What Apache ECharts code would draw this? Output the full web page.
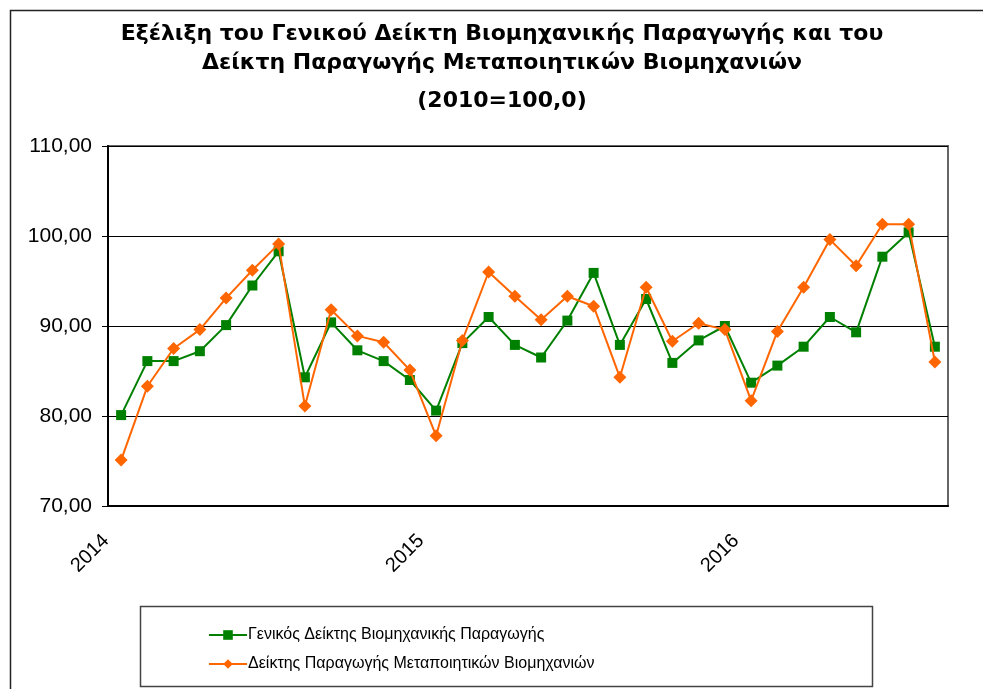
<!DOCTYPE html>
<html>
<head>
<meta charset="utf-8">
<script src="https://cdn.jsdelivr.net/npm/echarts@6/dist/echarts.min.js"></script>
<style>
html,body{margin:0;padding:0;background:#fff;}
#chart{width:983px;height:689px;}
</style>
</head>
<body>
<div id="chart"></div>
<script>
// Months Jan 2014 .. Aug 2016
var months = ['2014-01','2014-02','2014-03','2014-04','2014-05','2014-06','2014-07','2014-08','2014-09','2014-10','2014-11','2014-12',
              '2015-01','2015-02','2015-03','2015-04','2015-05','2015-06','2015-07','2015-08','2015-09','2015-10','2015-11','2015-12',
              '2016-01','2016-02','2016-03','2016-04','2016-05','2016-06','2016-07','2016-08'];
var generalIndex = [80.1, 86.1, 86.1, 87.2, 90.1, 94.5, 98.3, 84.3, 90.4, 87.3, 86.1, 84.0,
                    80.6, 88.1, 91.0, 87.9, 86.5, 90.6, 95.9, 87.9, 93.0, 85.9, 88.4, 90.0,
                    83.7, 85.6, 87.7, 91.0, 89.3, 97.7, 100.4, 87.7];
var manufacturingIndex = [75.1, 83.3, 87.5, 89.6, 93.1, 96.2, 99.1, 81.1, 91.8, 88.9, 88.2, 85.1,
                          77.8, 88.4, 96.0, 93.3, 90.7, 93.3, 92.2, 84.3, 94.3, 88.3, 90.3, 89.6,
                          81.7, 89.4, 94.3, 99.6, 96.7, 101.3, 101.3, 86.0];
var yearLabels = ['2014', '2015', '2016'];
var yTicks = [70, 80, 90, 100, 110];
var seriesNames = ['Γενικός Δείκτης Βιομηχανικής Παραγωγής', 'Δείκτης Παραγωγής Μεταποιητικών Βιομηχανιών'];
var titleLines = ['Εξέλιξη του Γενικού Δείκτη Βιομηχανικής Παραγωγής και του',
                  'Δείκτη Παραγωγής Μεταποιητικών Βιομηχανιών',
                  '(2010=100,0)'];

// boundary labels: one slot per category boundary (months.length + 1)
var boundaryLabels = [];
for (var i = 0; i <= months.length; i++) {
  var lab = '';
  if (i < months.length && months[i].slice(5) === '01') {
    var y = months[i].slice(0, 4);
    if (yearLabels.indexOf(y) >= 0) lab = y;
  }
  boundaryLabels.push(lab);
}

var FONT = '"Liberation Sans", Arial, sans-serif';
var TFONT = '"DejaVu Sans", "Liberation Sans", sans-serif';
var chart = echarts.init(document.getElementById('chart'), null, {renderer: 'canvas'});
var titleTops = [23, 52, 90];
var option = {
  backgroundColor: '#ffffff',
  animation: false,
  title: titleLines.map(function (t, k) {
    return {
      text: t, left: 502, top: titleTops[k], textAlign: 'center', padding: 0,
      textStyle: {fontFamily: TFONT, fontSize: 22, fontWeight: 'bold', color: '#000'}
    };
  }),
  graphic: [
    {type: 'rect', shape: {x: 10.5, y: 10.5, width: 1000, height: 700}, style: {fill: 'none', stroke: '#222', lineWidth: 1.5}, silent: true, z: -1},
    {type: 'rect', shape: {x: 140.5, y: 606.5, width: 732, height: 80}, style: {fill: '#fff', stroke: '#444', lineWidth: 1.5}, silent: true, z: 0}
  ],
  legend: {
    orient: 'vertical', left: 203, top: 622, itemGap: 13, itemWidth: 38, itemHeight: 12,
    data: seriesNames, z: 5,
    textStyle: {fontFamily: FONT, fontSize: 16, color: '#000', padding: [0, 0, 0, -4]}
  },
  grid: {left: 108, right: 35, top: 146, bottom: 183, show: true, borderColor: '#666', borderWidth: 2, backgroundColor: 'transparent'},
  xAxis: [
    {
      type: 'category', data: months, boundaryGap: true, position: 'bottom',
      axisLine: {lineStyle: {color: '#000', width: 2}},
      axisTick: {interval: 0, length: 6, lineStyle: {color: '#000', width: 1}},
      axisLabel: {show: false}, splitLine: {show: false}
    },
    {
      type: 'category', data: boundaryLabels, boundaryGap: false, position: 'bottom',
      axisLine: {show: false}, axisTick: {show: false}, splitLine: {show: false},
      axisLabel: {interval: 0, rotate: 45, margin: 38, verticalAlign: 'bottom', align: 'right',
                  padding: [0, -3, -4, 0],
                  fontFamily: FONT, fontSize: 20, color: '#000'}
    }
  ],
  yAxis: {
    type: 'value', min: yTicks[0], max: yTicks[yTicks.length - 1], interval: 10,
    axisLine: {show: true, lineStyle: {color: '#000', width: 2}},
    axisTick: {show: true, length: 6, lineStyle: {color: '#000', width: 1}},
    axisLabel: {margin: 16, fontFamily: FONT, fontSize: 21, color: '#000',
                formatter: function (v) { return v.toFixed(2).replace('.', ','); }},
    splitLine: {show: true, lineStyle: {color: '#000', width: 1}}
  },
  series: [
    {
      name: seriesNames[0], type: 'line', data: generalIndex, xAxisIndex: 0,
      symbol: 'rect', symbolSize: 10, showAllSymbol: true,
      lineStyle: {color: '#008000', width: 2}, itemStyle: {color: '#008000'}, z: 3
    },
    {
      name: seriesNames[1], type: 'line', data: manufacturingIndex, xAxisIndex: 0,
      symbol: 'diamond', symbolSize: 13, showAllSymbol: true,
      lineStyle: {color: '#FF6600', width: 2}, itemStyle: {color: '#FF6600'}, z: 4
    }
  ]
};
chart.setOption(option);
</script>
</body>
</html>
